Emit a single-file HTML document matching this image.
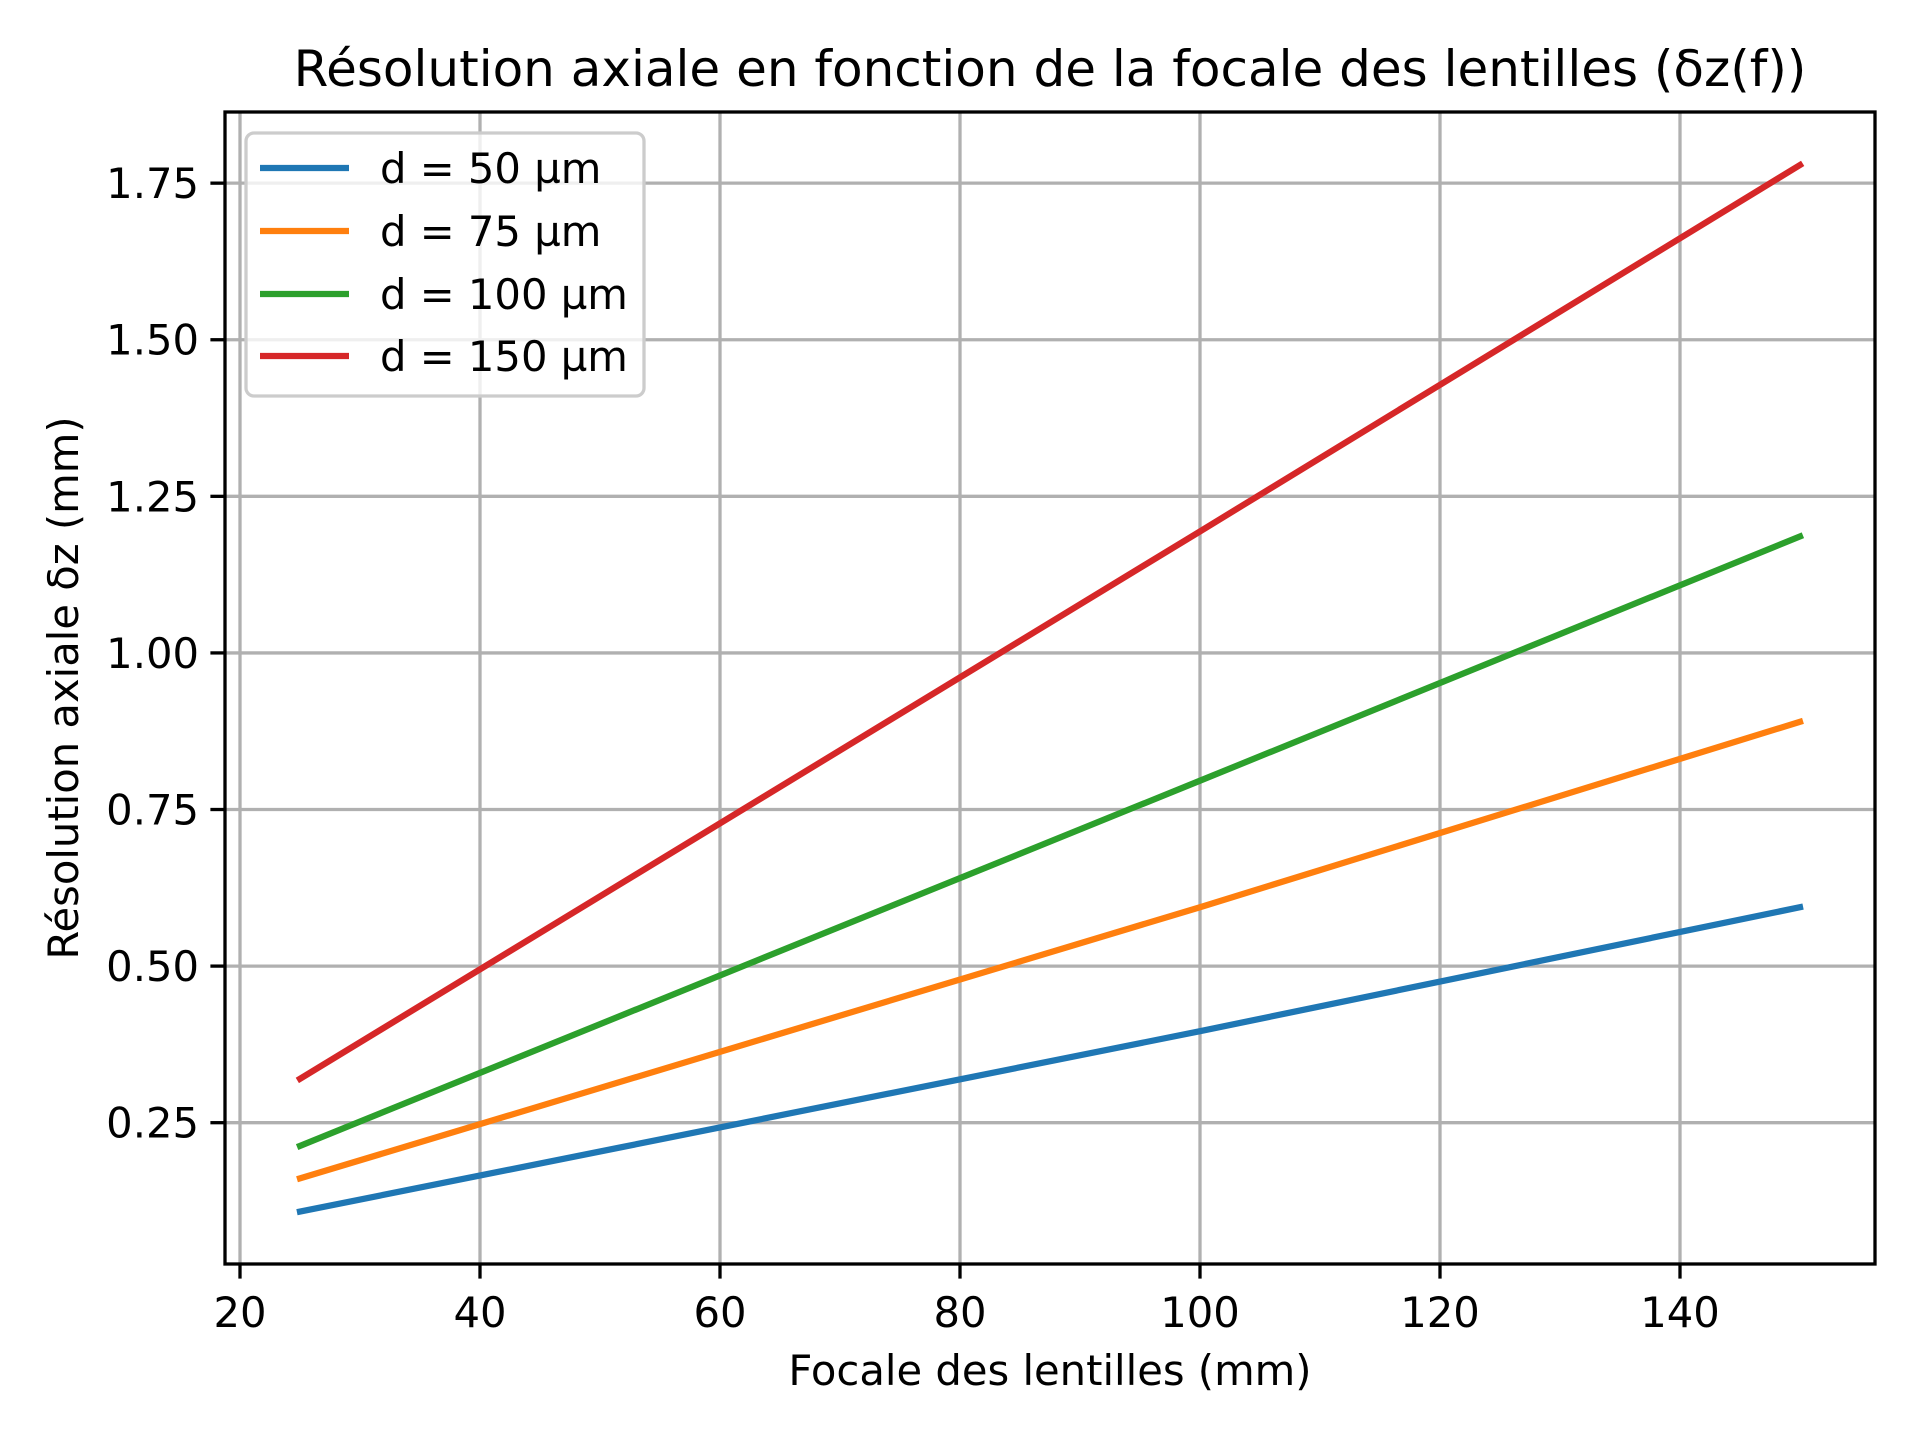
<!DOCTYPE html>
<html><head><meta charset="utf-8"><style>
html,body{margin:0;padding:0;background:#fff;}
svg text{font-family:"DejaVu Sans","Liberation Sans",sans-serif;fill:#000;}
</style></head><body>
<svg id="chart" width="1920" height="1440" viewBox="0 0 1920 1440" xmlns="http://www.w3.org/2000/svg">
<rect width="1920" height="1440" fill="#fff"/>
<g id="grid"></g>
<g id="series"></g>
<rect x="225" y="112" width="1650" height="1152" fill="none" stroke="#000" stroke-width="3.3"/>
<g id="ticks"></g>
<text x="1050" y="86" font-size="50" text-anchor="middle">Résolution axiale en fonction de la focale des lentilles (δz(f))</text>
<text x="1050" y="1385" font-size="41.7" text-anchor="middle">Focale des lentilles (mm)</text>
<text transform="translate(78,688) rotate(-90)" font-size="41.7" text-anchor="middle">Résolution axiale δz (mm)</text>
<g id="legend"></g>
</svg>
<script>
const focals = [25, 100, 150];
const seriesLabels = ["d = 50 µm", "d = 75 µm", "d = 100 µm", "d = 150 µm"];
const seriesColors = ["#1f77b4", "#ff7f0e", "#2ca02c", "#d62728"];
const d50 = [0.108, 0.396, 0.594];
const d75 = [0.161, 0.594, 0.890];
const d100 = [0.213, 0.796, 1.186];
const d150 = [0.320, 1.194, 1.779];
const xTicks = [20, 40, 60, 80, 100, 120, 140];
const yTicks = [0.25, 0.50, 0.75, 1.00, 1.25, 1.50, 1.75];
const yTickLabels = ["0.25", "0.50", "0.75", "1.00", "1.25", "1.50", "1.75"];

const NS = "http://www.w3.org/2000/svg";
const L = 225, R = 1875, T = 112, B = 1264;
const xMin = 18.75, xMax = 156.25, yMin = 0.0244, yMax = 1.8636;
function xs(v){ return L + (v - xMin) / (xMax - xMin) * (R - L); }
function ys(v){ return B - (v - yMin) / (yMax - yMin) * (B - T); }
function mk(tag, attrs, parent){
  const e = document.createElementNS(NS, tag);
  for (const k in attrs) e.setAttribute(k, attrs[k]);
  parent.appendChild(e);
  return e;
}
const grid = document.getElementById("grid");
const ticks = document.getElementById("ticks");
xTicks.forEach(t => {
  const x = xs(t);
  const g = mk("line", {x1:x, x2:x, y1:T, y2:B, stroke:"#b0b0b0", "stroke-width":3.3}, grid);
  
  
  const tk = mk("line", {x1:x, x2:x, y1:B, y2:B+14.6, stroke:"#000", "stroke-width":3.3}, ticks);
  
  
  const tx = mk("text", {x:x, y:1327, "font-size":41.7, "text-anchor":"middle"}, ticks);
  tx.textContent = String(t);
  
  
});
yTicks.forEach((t, i) => {
  const y = ys(t);
  const g = mk("line", {x1:L, x2:R, y1:y, y2:y, stroke:"#b0b0b0", "stroke-width":3.3}, grid);
  
  
  const tk = mk("line", {x1:L-14.6, x2:L, y1:y, y2:y, stroke:"#000", "stroke-width":3.3}, ticks);
  
  
  const tx = mk("text", {x:L-26, y:y+15, "font-size":41.7, "text-anchor":"end"}, ticks);
  tx.textContent = yTickLabels[i];
  
  
});
const seriesData = [d50, d75, d100, d150];
const series = document.getElementById("series");
seriesData.forEach((vals, s) => {
  const pts = vals.map((v, i) => xs(focals[i]).toFixed(1) + "," + ys(v).toFixed(1)).join(" ");
  const pl = mk("polyline", {points:pts, fill:"none", stroke:seriesColors[s], "stroke-width":6.25, "stroke-linecap":"square"}, series);
  
  
});
const legend = document.getElementById("legend");
const box = mk("rect", {x:246, y:133, width:398, height:263, rx:8, fill:"#fff", "fill-opacity":0.8, stroke:"#cccccc", "stroke-width":3.3}, legend);


const rowY = [168, 231, 294, 356];
seriesLabels.forEach((lab, i) => {
  const ln = mk("line", {x1:260, x2:349, y1:rowY[i], y2:rowY[i], stroke:seriesColors[i], "stroke-width":6.25}, legend);
  
  
  const tx = mk("text", {x:380, y:rowY[i]+15, "font-size":41.7}, legend);
  tx.textContent = lab;
  
  
});
</script>
</body></html>
